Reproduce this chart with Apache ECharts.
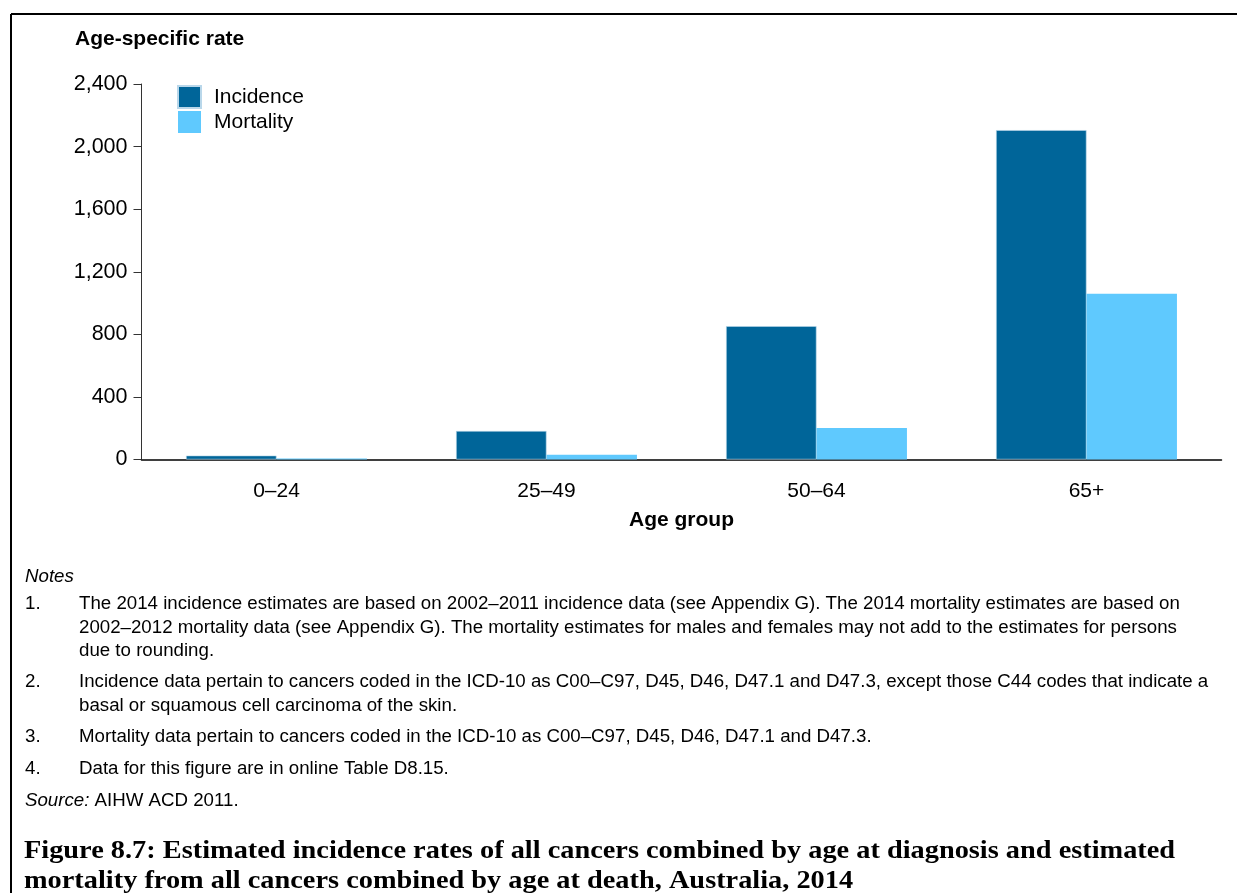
<!DOCTYPE html>
<html>
<head>
<meta charset="utf-8">
<script src="https://cdn.jsdelivr.net/npm/echarts@6/dist/echarts.min.js"></script>
<style>
html,body{margin:0;padding:0;background:#fff;}
#chart{width:1237px;height:893px;}
</style>
</head>
<body>
<div id="chart"></div>
<script>
const categories = ['0–24', '25–49', '50–64', '65+'];
const incidence = [25, 182, 852, 2105];
const mortality = [6, 31, 202, 1059];
const yTicks = { min: 0, max: 2400, interval: 400 };
const seriesNames = ['Incidence', 'Mortality'];
const notes = [
  ['1.', ['The 2014 incidence estimates are based on 2002–2011 incidence data (see Appendix G). The 2014 mortality estimates are based on',
          '2002–2012 mortality data (see Appendix G). The mortality estimates for males and females may not add to the estimates for persons',
          'due to rounding.']],
  ['2.', ['Incidence data pertain to cancers coded in the ICD-10 as C00–C97, D45, D46, D47.1 and D47.3, except those C44 codes that indicate a',
          'basal or squamous cell carcinoma of the skin.']],
  ['3.', ['Mortality data pertain to cancers coded in the ICD-10 as C00–C97, D45, D46, D47.1 and D47.3.']],
  ['4.', ['Data for this figure are in online Table D8.15.']]
];
const titleLines = ['Figure 8.7: Estimated incidence rates of all cancers combined by age at diagnosis and estimated',
                    'mortality from all cancers combined by age at death, Australia, 2014'];

const SANS = '"Liberation Sans", Arial, sans-serif';
const SERIF = '"Liberation Serif", "Times New Roman", serif';
const NOTE_FONT = '18.7px ' + SANS;

function txt(x, y, text, font, extra) {
  return Object.assign({ type: 'text', x: x, y: y,
    style: { text: text, font: font, fill: '#000', align: 'left', verticalAlign: 'middle' } }, extra || {});
}

const graphics = [
  { type: 'line', shape: { x1: 11, y1: 14, x2: 1237, y2: 14 }, style: { stroke: '#000', lineWidth: 2 } },
  { type: 'line', shape: { x1: 11, y1: 14, x2: 11, y2: 893 }, style: { stroke: '#000', lineWidth: 2 } },
  txt(75, 39, 'Age-specific rate', 'bold 21px ' + SANS),
  txt(25, 577, 'Notes', 'italic 18.7px ' + SANS)
];
const noteCenters = [604, 682, 737, 769];
const noteLineH = 23.5;
notes.forEach((n, i) => {
  graphics.push(txt(25, noteCenters[i], n[0], NOTE_FONT));
  n[1].forEach((ln, j) => {
    graphics.push(txt(79, noteCenters[i] + j * noteLineH, ln, NOTE_FONT));
  });
});
graphics.push({
  type: 'text', x: 25, y: 801,
  style: { rich: { i: { font: 'italic 18.7px ' + SANS, fill: '#000' }, n: { font: NOTE_FONT, fill: '#000' } },
           text: '{i|Source:}{n| AIHW ACD 2011.}', verticalAlign: 'middle', align: 'left' }
});
titleLines.forEach((t, j) => {
  graphics.push(txt(24, 851 + j * 30, t, 'bold 26px ' + SERIF, { scaleX: 1.09 }));
});

const chart = echarts.init(document.getElementById('chart'), null, { renderer: 'canvas' });
chart.setOption({
  animation: false,
  backgroundColor: '#fff',
  grid: { left: 141.5, right: 15.5, top: 84, bottom: 433.5, containLabel: false },
  legend: {
    orient: 'vertical', left: 177, top: 85, padding: 0,
    itemWidth: 23, itemHeight: 22, itemGap: 2,
    icon: 'rect',
    textStyle: { fontSize: 21, fontFamily: SANS, color: '#000', padding: [0, 0, 0, 8], lineHeight: 22 },
    data: seriesNames
  },
  xAxis: {
    type: 'category', data: categories,
    axisLine: { lineStyle: { color: '#000', width: 1.5 } },
    axisTick: { show: false },
    axisLabel: { fontSize: 21, fontFamily: SANS, color: '#000', margin: 21 },
    name: 'Age group', nameLocation: 'middle', nameGap: 50,
    nameTextStyle: { fontSize: 21, fontWeight: 'bold', fontFamily: SANS, color: '#000' }
  },
  yAxis: {
    type: 'value', min: yTicks.min, max: yTicks.max, interval: yTicks.interval,
    axisLine: { show: true, lineStyle: { color: '#333', width: 1 } },
    axisTick: { show: true, length: 8, lineStyle: { color: '#333' } },
    splitLine: { show: false },
    axisLabel: { fontSize: 21.5, fontFamily: SANS, color: '#000', margin: 14,
                 formatter: v => v.toLocaleString('en-US') }
  },
  series: [
    { name: seriesNames[0], type: 'bar', data: incidence, barGap: '0%', barCategoryGap: '33%',
      itemStyle: { color: '#006599', borderColor: '#b9d7ea', borderWidth: 0.6 } },
    { name: seriesNames[1], type: 'bar', data: mortality, barGap: '0%', barCategoryGap: '33%',
      itemStyle: { color: '#5fc9fe' } }
  ],
  graphic: graphics
});
</script>
</body>
</html>
